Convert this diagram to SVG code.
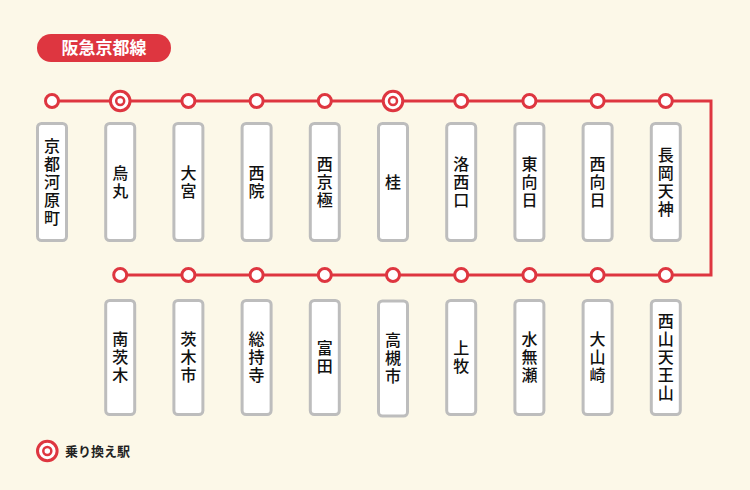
<svg xmlns="http://www.w3.org/2000/svg" width="750" height="490" viewBox="0 0 750 490">
<style>
.bg{fill:#fcf8e8}
.line{fill:none;stroke:#de3640;stroke-width:3}
.st{fill:#fff;stroke:#de3640;stroke-width:3}
.tin{fill:#fff;stroke:#de3640;stroke-width:2.5}
.box{fill:#fff;stroke:#bdbdbd;stroke-width:3}
.lbl{font-family:"Noto Sans CJK JP","Noto Sans CJK SC",sans-serif;font-size:16px;font-weight:500;fill:#111;text-anchor:middle;writing-mode:vertical-rl;letter-spacing:2px}
.title{font-family:"Noto Sans CJK JP","Noto Sans CJK SC",sans-serif;font-size:17px;font-weight:bold;fill:#fff;text-anchor:middle}
.leg{font-family:"Noto Sans CJK JP","Noto Sans CJK SC",sans-serif;font-size:13px;font-weight:bold;fill:#222}
</style>
<defs>
<g id="xfer"><circle r="9.8" class="st"/><circle r="4" class="tin"/></g>
</defs>
<rect class="bg" width="750" height="490"/>
<g id="title"><rect x="37" y="34" width="134" height="28" rx="14" fill="#de3640"/><text class="title" x="104" y="54">阪急京都線</text></g>
<g id="connectors"><polyline class="line" points="52,101 711,101 711,275 120,275"/></g>
<g id="s1"><circle class="st" cx="52" cy="101" r="6.5"/><rect class="box" x="37.5" y="123.5" width="29" height="117" rx="4"/><text class="lbl" x="52" y="183">京都河原町</text></g>
<g id="s2"><use href="#xfer" x="120.2" y="101"/><rect class="box" x="105.7" y="123.5" width="29" height="117" rx="4"/><text class="lbl" x="120.2" y="183">烏丸</text></g>
<g id="s3"><circle class="st" cx="188.4" cy="101" r="6.5"/><rect class="box" x="173.9" y="123.5" width="29" height="117" rx="4"/><text class="lbl" x="188.4" y="183">大宮</text></g>
<g id="s4"><circle class="st" cx="256.6" cy="101" r="6.5"/><rect class="box" x="242.1" y="123.5" width="29" height="117" rx="4"/><text class="lbl" x="256.6" y="183">西院</text></g>
<g id="s5"><circle class="st" cx="324.8" cy="101" r="6.5"/><rect class="box" x="310.3" y="123.5" width="29" height="117" rx="4"/><text class="lbl" x="324.8" y="183">西京極</text></g>
<g id="s6"><use href="#xfer" x="393" y="101"/><rect class="box" x="378.5" y="123.5" width="29" height="117" rx="4"/><text class="lbl" x="393" y="183">桂</text></g>
<g id="s7"><circle class="st" cx="461.2" cy="101" r="6.5"/><rect class="box" x="446.7" y="123.5" width="29" height="117" rx="4"/><text class="lbl" x="461.2" y="183">洛西口</text></g>
<g id="s8"><circle class="st" cx="529.4" cy="101" r="6.5"/><rect class="box" x="514.9" y="123.5" width="29" height="117" rx="4"/><text class="lbl" x="529.4" y="183">東向日</text></g>
<g id="s9"><circle class="st" cx="597.6" cy="101" r="6.5"/><rect class="box" x="583.1" y="123.5" width="29" height="117" rx="4"/><text class="lbl" x="597.6" y="183">西向日</text></g>
<g id="s10"><circle class="st" cx="665.8" cy="101" r="6.5"/><rect class="box" x="651.3" y="123.5" width="29" height="117" rx="4"/><text class="lbl" x="665.8" y="183">長岡天神</text></g>
<g id="s11"><circle class="st" cx="665.8" cy="275" r="6.5"/><rect class="box" x="651.3" y="300.5" width="29" height="114" rx="4"/><text class="lbl" x="665.8" y="358">西山天王山</text></g>
<g id="s12"><circle class="st" cx="597.6" cy="275" r="6.5"/><rect class="box" x="583.1" y="300.5" width="29" height="114" rx="4"/><text class="lbl" x="597.6" y="358">大山崎</text></g>
<g id="s13"><circle class="st" cx="529.4" cy="275" r="6.5"/><rect class="box" x="514.9" y="300.5" width="29" height="114" rx="4"/><text class="lbl" x="529.4" y="358">水無瀬</text></g>
<g id="s14"><circle class="st" cx="461.2" cy="275" r="6.5"/><rect class="box" x="446.7" y="300.5" width="29" height="114" rx="4"/><text class="lbl" x="461.2" y="358">上牧</text></g>
<g id="s15"><circle class="st" cx="393" cy="275" r="6.5"/><rect class="box" x="378.5" y="301" width="29" height="115" rx="4"/><text class="lbl" x="393" y="359">高槻市</text></g>
<g id="s16"><circle class="st" cx="324.8" cy="275" r="6.5"/><rect class="box" x="310.3" y="300.5" width="29" height="114" rx="4"/><text class="lbl" x="324.8" y="358">富田</text></g>
<g id="s17"><circle class="st" cx="256.6" cy="275" r="6.5"/><rect class="box" x="242.1" y="300.5" width="29" height="114" rx="4"/><text class="lbl" x="256.6" y="358">総持寺</text></g>
<g id="s18"><circle class="st" cx="188.4" cy="275" r="6.5"/><rect class="box" x="173.9" y="300.5" width="29" height="114" rx="4"/><text class="lbl" x="188.4" y="358">茨木市</text></g>
<g id="s19"><circle class="st" cx="120.2" cy="275" r="6.5"/><rect class="box" x="105.7" y="300.5" width="29" height="114" rx="4"/><text class="lbl" x="120.2" y="358">南茨木</text></g>
<g id="legend"><use href="#xfer" x="47.3" y="451"/><text class="leg" x="65" y="456">乗り換え駅</text></g>
</svg>
